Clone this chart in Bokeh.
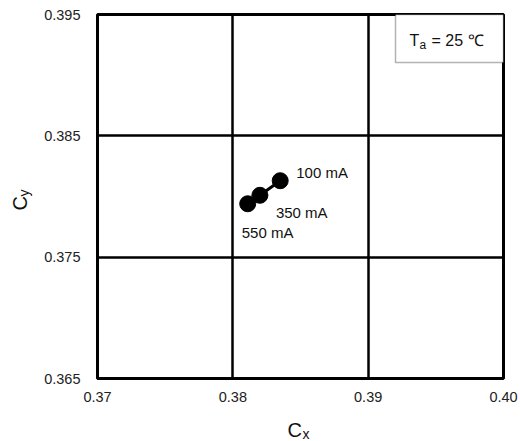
import math
from bokeh.plotting import figure
from bokeh.layouts import row, column
from bokeh.models import ColumnDataSource, FixedTicker, PrintfTickFormatter, Label, BoxAnnotation, Range1d
from bokeh.embed import file_html
from bokeh.resources import INLINE
from bokeh.core.properties import value

# ---- data ----
currents = ["100 mA", "350 mA", "550 mA"]
cx = [0.3835, 0.3820, 0.3811]
cy = [0.3813, 0.3801, 0.3794]
x_ticks = [0.37, 0.38, 0.39, 0.40]
y_ticks = [0.365, 0.375, 0.385, 0.395]
ambient_text = "= 25 \u2103"

# ---- style / layout ----
FONT = "Liberation Sans"
TXT = "#111111"
W, H = 520, 441
X0, X1 = 0.37, 0.40
Y0, Y1 = 0.365, 0.395
FL, FT = 97, 14          # frame left/top in page pixels
FW, FH = 406, 364
YT_W = 40                # width of the strip holding the y title
MAIN_H = 410             # height of the main figure
label_dx = [16, 16, -6]
label_dy = [-8, 17, 29]


def dx(px):
    return X0 + (px - FL) / FW * (X1 - X0)


def dy(py):
    return Y0 + (FT + FH - py) / FH * (Y1 - Y0)


p = figure(frame_width=FW, frame_height=FH,
           x_range=Range1d(X0, X1), y_range=Range1d(Y0, Y1),
           output_backend="svg", toolbar_location=None,
           min_border_left=FL - YT_W, min_border_top=FT,
           min_border_right=W - FL - FW, min_border_bottom=MAIN_H - FT - FH)
p.background_fill_color = "white"
p.border_fill_color = "white"
p.outline_line_color = "black"
p.outline_line_width = 3

for ax in (p.xaxis[0], p.yaxis[0]):
    ax.axis_line_color = None
    ax.major_tick_line_color = None
    ax.minor_tick_line_color = None
    ax.major_tick_out = 0
    ax.major_tick_in = 0
    ax.minor_tick_out = 0
    ax.minor_tick_in = 0
    ax.major_label_text_font = FONT
    ax.major_label_text_font_size = "14.5px"
    ax.major_label_text_color = "#222222"

p.xaxis.ticker = FixedTicker(ticks=x_ticks)
p.yaxis.ticker = FixedTicker(ticks=y_ticks)
p.xaxis.formatter = PrintfTickFormatter(format="%.2f")
p.yaxis.formatter = PrintfTickFormatter(format="%.3f")
p.xaxis.major_label_standoff = 13
p.yaxis.major_label_standoff = 17

for g in (p.xgrid[0], p.ygrid[0]):
    g.grid_line_color = "black"
    g.grid_line_width = 2.5
    g.grid_line_alpha = 1.0

src = ColumnDataSource(dict(x=cx, y=cy, t=currents, xo=label_dx, yo=label_dy))
p.line("x", "y", source=src, line_color="black", line_width=3)
p.scatter("x", "y", source=src, size=16, fill_color="black", line_color="black")
p.text("x", "y", text="t", source=src, x_offset="xo", y_offset="yo",
       text_font=value(FONT), text_font_size="15px", text_color=TXT,
       text_baseline="middle", text_align="left")

# Ta box
p.add_layout(BoxAnnotation(left=dx(395), right=X1, bottom=dy(62), top=Y1,
                           fill_color="white", fill_alpha=1.0,
                           line_color="black", line_width=1.5))
p.add_layout(Label(x=dx(409), y=dy(40), text="T", text_font=FONT, text_font_size="16px",
                   text_baseline="middle", text_align="left", text_color=TXT))
p.add_layout(Label(x=dx(419), y=dy(44), text="a", text_font=FONT, text_font_size="12px",
                   text_baseline="middle", text_align="left", text_color=TXT))
p.add_layout(Label(x=dx(431), y=dy(40), text=ambient_text, text_font=FONT, text_font_size="16px",
                   text_baseline="middle", text_align="left", text_color=TXT))


def strip(width, height, xr, yr):
    f = figure(frame_width=width, frame_height=height,
               x_range=Range1d(*xr), y_range=Range1d(*yr),
               x_axis_location=None, y_axis_location=None,
               output_backend="svg", toolbar_location=None, min_border=0)
    f.outline_line_color = None
    f.background_fill_color = "white"
    f.border_fill_color = "white"
    f.xgrid.grid_line_color = None
    f.ygrid.grid_line_color = None
    f.xgrid.visible = False
    f.ygrid.visible = False
    return f


# y title strip: page x 0..YT_W, page y 0..H  (data y = H - page y)
yfig = strip(YT_W, H, (0, YT_W), (0, H))
yfig.text(x=[19.5], y=[H - 210], text=["C"], angle=math.pi / 2, text_font=value(FONT),
          text_font_size="20px", text_baseline="middle", text_align="left", text_color=TXT)
yfig.text(x=[23], y=[H - 196], text=["y"], angle=math.pi / 2, text_font=value(FONT),
          text_font_size="14px", text_baseline="middle", text_align="left", text_color=TXT)

# x title strip: frame gets aligned with the main frame -> page x FL..FL+FW
XH = H - MAIN_H
xfig = strip(FW, XH, (FL, FL + FW), (0, XH))
xfig.text(x=[287], y=[H - 429], text=["C"], text_font=value(FONT),
          text_font_size="20px", text_baseline="middle", text_align="left", text_color=TXT)
xfig.text(x=[302], y=[H - 433], text=["x"], text_font=value(FONT),
          text_font_size="14px", text_baseline="middle", text_align="left", text_color=TXT)

layout = row(yfig, column(p, xfig, spacing=0), spacing=0)

open("out.html", "w").write(file_html(layout, INLINE))
